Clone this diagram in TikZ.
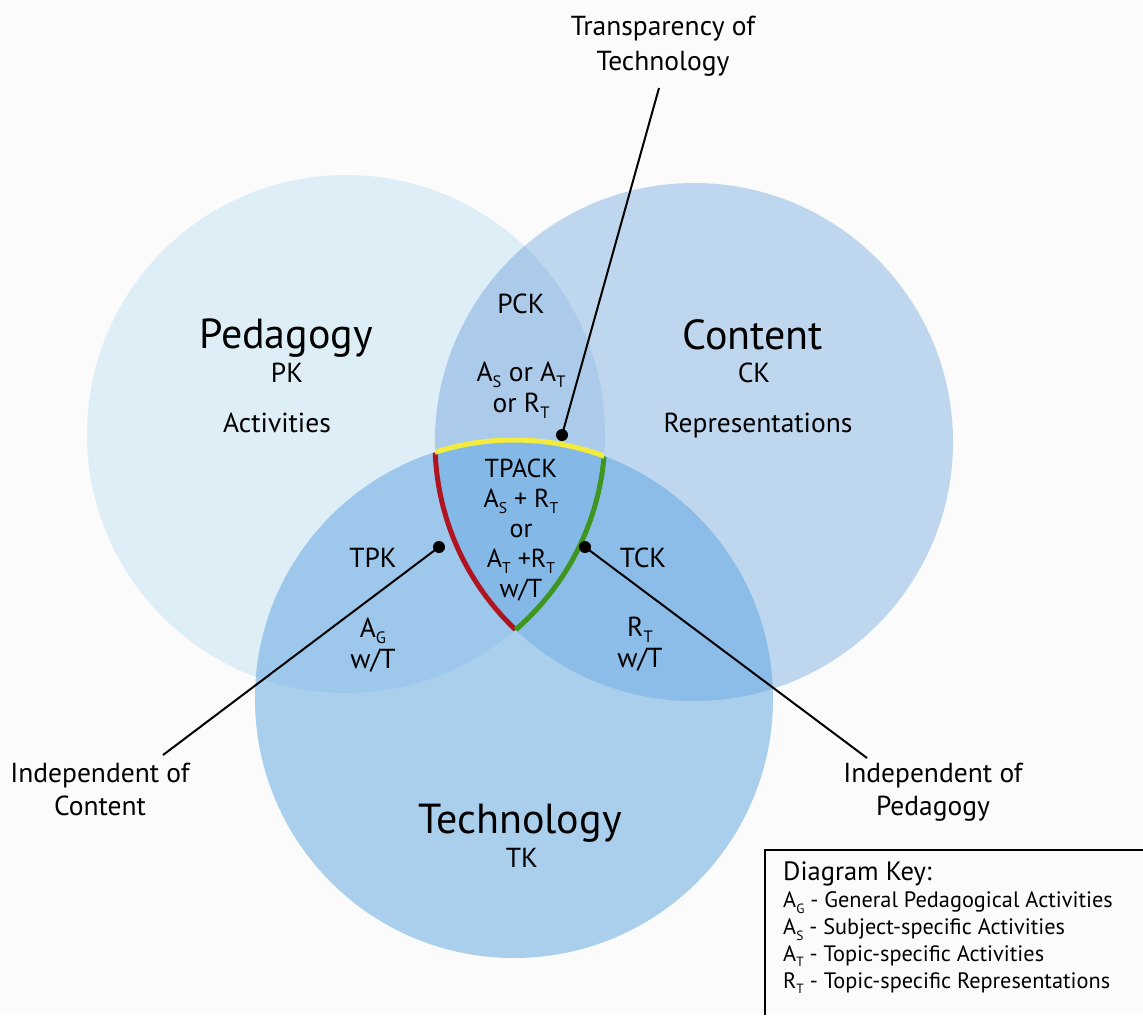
\documentclass[tikz,border=0pt]{standalone}
\usepackage{tikz}
\usepackage{graphicx}
\usepackage{fontspec}
\setmainfont{PT Sans}

\definecolor{paper}{RGB}{251,251,251}
\definecolor{pedfill}{RGB}{221,238,247}
\definecolor{confill}{RGB}{190,215,239}
\definecolor{tecfill}{RGB}{169,207,237}
\definecolor{pcfill}{RGB}{172,203,234}
\definecolor{ptfill}{RGB}{157,200,235}
\definecolor{ctfill}{RGB}{140,188,232}
\definecolor{allfill}{RGB}{132,184,230}
\definecolor{rimred}{RGB}{176,20,32}
\definecolor{rimgreen}{RGB}{62,150,32}
\definecolor{rimyellow}{RGB}{242,236,62}

\newcommand{\lowsub}[1]{\raisebox{-0.25em}{\scalebox{0.6}{#1}}}
\def\rad{259pt}

\begin{document}
\begin{tikzpicture}[x=1pt,y=-1pt,
    big label/.style={font=\fontsize{42}{46}\selectfont,anchor=base,inner sep=0pt},
    small label/.style={font=\fontsize{27.5}{30}\selectfont,anchor=base,align=center,inner sep=0pt},
    key title/.style={font=\fontsize{26.5}{28}\selectfont,anchor=base west,inner sep=0pt},
    key entry/.style={font=\fontsize{22.3}{26.7}\selectfont,anchor=base west,align=left,inner sep=0pt},
    dot/.style={circle,fill=black,inner sep=0pt,minimum size=12pt},
    pointer/.style={line width=2pt},
    rim/.style={line width=5pt}]
    \fill[paper] (0,0) rectangle (1143,1015);
    \useasboundingbox (0,0) rectangle (1143,1015);
    % circle centres
    \coordinate (ped) at (346,434);
    \coordinate (con) at (694,442);
    \coordinate (tec) at (514,699);
    % circles and overlaps
    \fill[pedfill] (ped) circle (\rad);
    \fill[confill] (con) circle (\rad);
    \fill[tecfill] (tec) circle (\rad);
    \begin{scope}
        \clip (ped) circle (\rad);
        \fill[pcfill] (con) circle (\rad);
        \fill[ptfill] (tec) circle (\rad);
    \end{scope}
    \begin{scope}
        \clip (con) circle (\rad);
        \fill[ctfill] (tec) circle (\rad);
        \clip (ped) circle (\rad);
        \fill[allfill] (tec) circle (\rad);
    \end{scope}
    % TPACK rims
    \begin{scope}
        \clip (ped) circle (\rad);
        \clip (tec) circle (\rad);
        \draw[rim,rimred] (con) circle (\rad);
    \end{scope}
    \begin{scope}
        \clip (con) circle (\rad);
        \clip (tec) circle (\rad);
        \draw[rim,rimgreen] (ped) circle (\rad);
    \end{scope}
    \begin{scope}
        \clip (ped) circle (\rad);
        \clip (con) circle (\rad);
        \draw[rim,rimyellow] (tec) circle (\rad);
    \end{scope}
    % labels (multi-line ones sit on their last baseline)
    \node[big label] (pedname) at (286,348) {Pedagogy};
    \node[small label] (pk) at (287,382) {PK};
    \node[small label] (pedact) at (277,432) {Activities};
    \node[big label] (conname) at (753,349) {Content};
    \node[small label] (ck) at (754,382) {CK};
    \node[small label] (conrep) at (758,432) {Representations};
    \node[big label] (tecname) at (520,833) {Technology};
    \node[small label] (tk) at (522,867) {TK};
    \node[small label] (pck) at (521,313) {PCK};
    \node[small label,font=\fontsize{27.5}{31}\selectfont] (pckact) at (521,412)
        {A\lowsub{S} or A\lowsub{T}\\or R\lowsub{T}};
    \node[small label,font=\fontsize{26}{30}\selectfont] (tpack) at (521,597)
        {TPACK\\A\lowsub{S} + R\lowsub{T}\\or\\A\lowsub{T} +R\lowsub{T}\\w/T};
    \node[small label] (tpk) at (373,567) {TPK};
    \node[small label,font=\fontsize{27.5}{31}\selectfont] (tpkact) at (373,668) {A\lowsub{G}\\w/T};
    \node[small label] (tck) at (643,567) {TCK};
    \node[small label,font=\fontsize{27.5}{31}\selectfont] (tckrep) at (640,667) {R\lowsub{T}\\w/T};
    \node[small label,font=\fontsize{27.5}{35}\selectfont] (transp) at (663,70) {Transparency of\\Technology};
    \node[small label,font=\fontsize{27.5}{33}\selectfont] (indcon) at (100,815) {Independent of\\Content};
    \node[small label,font=\fontsize{27.5}{33}\selectfont] (indped) at (933,815) {Independent of\\Pedagogy};
    % pointers
    \node[dot] (dottop) at (562,435) {};
    \node[dot] (dotleft) at (439,547) {};
    \node[dot] (dotright) at (585,547) {};
    \coordinate (endtop) at (659,88);
    \coordinate (endleft) at (163,755);
    \coordinate (endright) at (867,758);
    \draw[pointer] (dottop.center) -- (endtop);
    \draw[pointer] (dotleft.center) -- (endleft);
    \draw[pointer] (dotright.center) -- (endright);
    % key
    \draw[pointer] (1143,850) -| (765,1015);
    \node[key title] (keyhead) at (783,880) {Diagram Key:};
    \node[key entry] (keyrows) at (783,988)
        {A\lowsub{G} - General Pedagogical Activities\\
         A\lowsub{S} - Subject-specific Activities\\
         A\lowsub{T} - Topic-specific Activities\\
         R\lowsub{T} - Topic-specific Representations};
\end{tikzpicture}
\end{document}
